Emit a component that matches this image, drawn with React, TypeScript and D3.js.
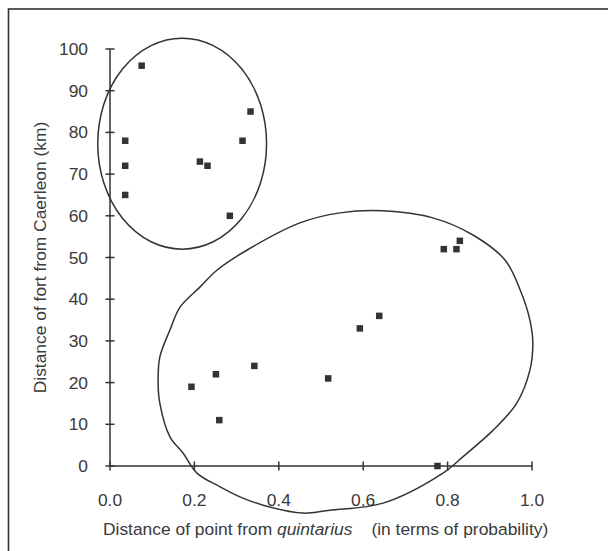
import React, { useEffect, useRef } from "react";
import * as d3 from "d3";

// probability distance from quintarius (x) and distance from Caerleon in km (y)
const probability = [
  0.075, 0.036, 0.036, 0.036, 0.213, 0.231, 0.284, 0.314, 0.333,
  0.193, 0.251, 0.259, 0.342, 0.517, 0.592, 0.638, 0.776, 0.791, 0.821, 0.829,
];
const distanceKm = [
  96, 78, 72, 65, 73, 72, 60, 78, 85,
  19, 22, 11, 24, 21, 33, 36, 0, 52, 52, 54,
];

const xTicks = [0, 0.2, 0.4, 0.6, 0.8, 1.0];
const yTicks = [0, 10, 20, 30, 40, 50, 60, 70, 80, 90, 100];

// hand-drawn group outlines, in data units
const groupA = { cx: 0.171, cy: 77.3, rx: 0.2, ry: 25.3 };
const groupBx = [
  0.647, 0.765, 0.86, 0.936, 0.972, 0.995, 1.002, 0.995, 0.964, 0.908, 0.836,
  0.789, 0.647, 0.521, 0.457, 0.363, 0.308, 0.261, 0.206, 0.173, 0.142, 0.118,
  0.114, 0.118, 0.142, 0.166, 0.213, 0.254, 0.325, 0.45, 0.545,
];
const groupBy = [
  61.2, 59.5, 55.4, 49.4, 42.2, 35.0, 29.5, 23.0, 15.1, 8.6, 2.2,
  -1.7, -8.9, -10.6, -11.3, -9.4, -7.4, -5.0, -1.7, 3.1, 7.0, 15.1,
  19.9, 26.1, 32.6, 38.1, 42.9, 47.0, 51.8, 58.3, 60.7,
];

const W = 608;
const H = 551;
const ink = "#333";
const textInk = "#3a3a3a";
const font = "'Liberation Sans', Arial, sans-serif";

const App: React.FC = () => {
  const svgRef = useRef<SVGSVGElement>(null);

  useEffect(() => {
    if (!svgRef.current) return;
    const svg = d3.select(svgRef.current);
    svg.selectAll("*").remove();

    const x = d3.scaleLinear().domain([0, 1]).range([110, 532]);
    const y = d3.scaleLinear().domain([0, 100]).range([466, 49]);

    // outer frame (runs off the right and bottom)
    svg
      .append("rect")
      .attr("x", 8.5)
      .attr("y", 9)
      .attr("width", 800)
      .attr("height", 800)
      .attr("fill", "none")
      .attr("stroke", ink)
      .attr("stroke-width", 1.6);

    // axes
    const axes = svg.append("g").attr("stroke", ink).attr("stroke-width", 1.5);
    axes.append("line").attr("x1", x(0)).attr("x2", x(1)).attr("y1", y(0)).attr("y2", y(0));
    axes.append("line").attr("x1", x(0)).attr("x2", x(0)).attr("y1", y(0)).attr("y2", y(100));
    axes
      .selectAll(".xt")
      .data(xTicks)
      .enter()
      .append("line")
      .attr("x1", (d) => x(d))
      .attr("x2", (d) => x(d))
      .attr("y1", y(0) - 4.5)
      .attr("y2", y(0) + 4.5);
    axes
      .selectAll(".yt")
      .data(yTicks)
      .enter()
      .append("line")
      .attr("x1", x(0) - 4.5)
      .attr("x2", x(0) + 4.5)
      .attr("y1", (d) => y(d))
      .attr("y2", (d) => y(d));

    const labels = svg
      .append("g")
      .attr("fill", textInk)
      .style("font-family", font)
      .style("font-size", "17.4px");

    labels
      .selectAll(".xl")
      .data(xTicks)
      .enter()
      .append("text")
      .attr("x", (d) => x(d))
      .attr("y", 506)
      .attr("text-anchor", "middle")
      .text((d) => d3.format(".1f")(d));

    labels
      .selectAll(".yl")
      .data(yTicks)
      .enter()
      .append("text")
      .attr("x", 88)
      .attr("y", (d) => y(d) + 6)
      .attr("text-anchor", "end")
      .text((d) => String(d));

    // axis titles
    const xTitle = labels.append("text").attr("x", 103).attr("y", 535);
    xTitle.append("tspan").text("Distance of point from ");
    xTitle.append("tspan").style("font-style", "italic").text("quintarius");
    xTitle.append("tspan").attr("dx", 19).text("(in terms of probability)");

    labels
      .append("text")
      .attr("transform", `translate(46,${(y(0) + y(100)) / 2}) rotate(-90)`)
      .attr("text-anchor", "middle")
      .text("Distance of fort from Caerleon (km)");

    // group outlines
    svg
      .append("ellipse")
      .attr("cx", x(groupA.cx))
      .attr("cy", y(groupA.cy))
      .attr("rx", x(groupA.rx) - x(0))
      .attr("ry", y(0) - y(groupA.ry))
      .attr("fill", "none")
      .attr("stroke", ink)
      .attr("stroke-width", 1.5);

    const outline = d3
      .line<number>()
      .x((d) => x(groupBx[d]))
      .y((d) => y(groupBy[d]))
      .curve(d3.curveCatmullRomClosed);
    svg
      .append("path")
      .attr("d", outline(d3.range(groupBx.length)))
      .attr("fill", "none")
      .attr("stroke", ink)
      .attr("stroke-width", 1.5);

    // points
    const s = 6.5;
    svg
      .selectAll(".pt")
      .data(d3.range(probability.length))
      .enter()
      .append("rect")
      .attr("x", (i) => x(probability[i]) - s / 2)
      .attr("y", (i) => y(distanceKm[i]) - s / 2)
      .attr("width", s)
      .attr("height", s)
      .attr("fill", ink);
  }, []);

  return (
    <svg
      ref={svgRef}
      width={W}
      height={H}
      style={{ position: "absolute", left: 0, top: 0, background: "#fff" }}
    />
  );
};

export default App;
